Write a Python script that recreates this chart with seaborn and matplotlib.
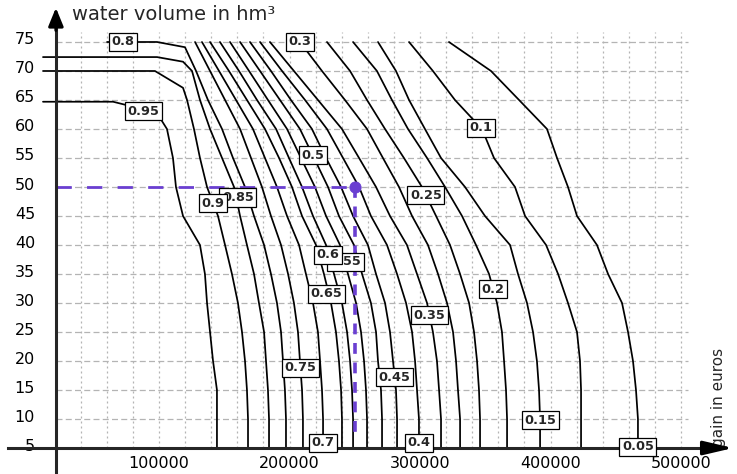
import numpy as np
import pandas as pd
import matplotlib
matplotlib.use("Agg")
import matplotlib.pyplot as plt
import matplotlib.transforms as mtransforms
import seaborn as sns

# ------------------------------------------------------------------ data
# water volume (hm3) at which the gain of each iso-probability line is read
volume = [5, 10, 15, 20, 25, 30, 35, 40, 45, 50, 55, 60, 65, 70, 75]
levels = [0.05, 0.1, 0.15, 0.2, 0.25, 0.3, 0.35, 0.4, 0.45, 0.5, 0.55, 0.6, 0.65, 0.7, 0.75]

# gain in thousand euros, one list per probability level (same order as `levels`)
g05 = [467.0, 467.0, 465.5, 463.2, 459.4, 454.8, 444.1, 435.6, 420.3, 413.4, 405.0, 397.3, 375.9, 354.4, 322.2]
g10 = [423.4, 423.4, 423.4, 422.6, 420.3, 413.4, 405.8, 396.6, 380.5, 372.8, 356.7, 347.5, 326.8, 309.9, 291.6]
g15 = [392.0, 392.0, 391.2, 389.6, 386.6, 382.0, 375.1, 369.0, 349.8, 334.5, 316.1, 303.8, 291.6, 281.6, 267.8]
g20 = [366.7, 366.7, 365.9, 364.4, 362.8, 359.0, 352.9, 342.9, 332.2, 319.2, 305.4, 290.8, 278.5, 267.0, 248.7]
g25 = [346.0, 346.0, 345.2, 343.7, 341.4, 337.6, 330.7, 323.0, 312.3, 301.5, 287.7, 273.2, 259.4, 246.4, 228.7]
g30 = [330.7, 330.7, 329.1, 327.6, 325.3, 320.7, 313.8, 306.1, 293.9, 283.9, 271.6, 259.4, 242.5, 224.9, 208.0]
g35 = [316.1, 316.1, 314.6, 313.0, 309.9, 305.4, 297.7, 290.0, 277.0, 266.3, 253.3, 240.2, 221.8, 203.4, 185.0]
g40 = [299.2, 299.2, 297.7, 296.2, 293.9, 289.3, 282.4, 274.7, 262.4, 253.3, 241.0, 228.7, 211.9, 194.3, 177.4]
g45 = [282.4, 282.4, 281.6, 279.3, 277.0, 273.2, 266.3, 260.1, 248.7, 239.5, 228.0, 217.2, 201.1, 185.8, 169.7]
g50 = [270.9, 270.9, 270.1, 267.8, 266.3, 262.4, 255.6, 249.4, 237.9, 229.5, 218.8, 208.0, 192.7, 177.4, 162.1]
g55 = [259.4, 259.4, 258.6, 257.1, 254.8, 251.0, 244.8, 238.7, 228.0, 219.5, 208.8, 198.1, 183.5, 169.0, 154.4]
g60 = [248.7, 248.7, 247.9, 246.4, 244.1, 240.2, 234.1, 228.0, 218.0, 209.6, 199.6, 189.7, 175.1, 161.3, 146.7]
g65 = [240.2, 240.2, 239.5, 237.9, 235.6, 231.8, 226.4, 220.3, 209.6, 201.9, 192.0, 181.2, 167.4, 153.6, 139.1]
g70 = [225.7, 225.7, 224.9, 223.4, 221.8, 218.0, 212.6, 207.3, 198.1, 190.4, 181.2, 172.0, 159.0, 146.0, 132.9]
g75 = [210.3, 210.3, 209.6, 208.0, 206.5, 203.4, 198.9, 193.5, 185.8, 178.9, 170.5, 162.1, 150.6, 139.1, 127.6]
gains = [g05, g10, g15, g20, g25, g30, g35, g40, g45, g50, g55, g60, g65, g70, g75]

# upper-left lines that flatten into a plateau
iso80_vol = [5, 10, 15, 20, 25, 30, 35, 40, 45, 50, 55, 60, 65, 70, 74.1, 75, 75]
iso80_gain = [197.3, 197.3, 196.5, 195.0, 193.5, 190.4, 185.8, 180.5, 172.8, 165.9, 156.7, 148.3, 137.5, 128.4, 119.9, 98.5, 60.2]
iso85_vol = [5, 10, 15, 20, 25, 30, 35, 40, 45, 50, 55, 60, 65, 70, 71.6, 72.4, 72.4]
iso85_gain = [184.3, 184.3, 183.5, 182.0, 180.5, 176.6, 172.8, 167.4, 162.1, 157.5, 148.3, 139.1, 131.4, 125.3, 118.4, 98.5, 11.1]
iso90_vol = [5, 10, 15, 20, 25, 30, 35, 40, 45, 50, 55, 60, 65, 67.1, 70, 70]
iso90_gain = [168.2, 168.2, 167.4, 165.9, 163.6, 160.5, 155.9, 150.6, 145.2, 136.8, 131.4, 126.8, 121.5, 118.4, 96.9, 11.1]
iso95_vol = [5, 10, 15, 20, 25, 30, 35, 40, 45, 50, 55, 60, 61.9, 64.1, 64.7, 64.7]
iso95_gain = [144.4, 144.4, 144.4, 141.4, 139.1, 136.8, 135.2, 131.4, 118.4, 113.0, 110.7, 106.1, 100.8, 75.5, 64.8, 11.1]

# inline level labels (drawn in this order; later ones sit on top)
label_text = ["0.8", "0.3", "0.95", "0.85", "0.9", "0.5", "0.25", "0.1", "0.55", "0.6",
              "0.65", "0.75", "0.7", "0.45", "0.4", "0.35", "0.2", "0.15", "0.05"]
label_gain_k = [72.4, 208.0, 88.0, 160.5, 141.5, 217.7, 304.5, 346.7, 243.0, 229.5,
                228.5, 208.4, 225.7, 280.6, 299.2, 307.3, 356.1, 392.0, 467.0]
label_vol = [75, 75, 63.1, 48.2, 47.2, 55.5, 48.6, 60.2, 37.1, 38.3,
             31.6, 18.8, 5.9, 17.2, 5.9, 27.9, 32.4, 9.8, 5.2]

# highlighted decision point
decision_gain = [250000]
decision_vol = [50]

x_ticks = [100000, 200000, 300000, 400000, 500000]
x_ticklabels = ["100000", "200000", "300000", "400000", "500000"]
y_ticks = [5, 10, 15, 20, 25, 30, 35, 40, 45, 50, 55, 60, 65, 70, 75]

# ------------------------------------------------------------------ table
rows = []
for lev, g in zip(levels, gains):
    for i, (v, x) in enumerate(zip(volume, g)):
        rows.append((lev, i, x * 1000, v))
for lev, vs, gs in [(0.8, iso80_vol, iso80_gain), (0.85, iso85_vol, iso85_gain),
                    (0.9, iso90_vol, iso90_gain), (0.95, iso95_vol, iso95_gain)]:
    for i, (v, x) in enumerate(zip(vs, gs)):
        rows.append((lev, i, x * 1000, v))
df = pd.DataFrame(rows, columns=["level", "order", "gain", "volume"])

# ------------------------------------------------------------------ plot
sns.set_style("white")
plt.rcParams["font.family"] = ["DejaVu Sans"]

fig = plt.figure(figsize=(7.37, 4.74), dpi=100)
ax = fig.add_axes([0, 0, 1, 1])
ax.set_xlim(-21840, 542900)
ax.set_ylim(0.52, 82.24)

grid_c = "#b4b4b4"
for v in y_ticks:
    ax.plot([21000, 505000], [v, v], color=grid_c, lw=0.9, ls=(0, (4.8, 2.6)), zorder=0)
for g in np.arange(40000, 520000, 20000):
    ax.plot([g, g], [5, 76.7], color=grid_c, lw=0.9, ls=(0, (1.6, 2.4)), zorder=0)

sns.lineplot(data=df, x="gain", y="volume", units="level", estimator=None, sort=False,
             color="black", linewidth=1.25, ax=ax, legend=False, zorder=3)

purple = "#6a3fd1"
ax.plot([21000, decision_gain[0]], [decision_vol[0], decision_vol[0]], color=purple,
        lw=2.0, ls=(0, (5.5, 5.5)), zorder=4)
ax.plot([decision_gain[0], decision_gain[0]], [decision_vol[0], 6.8], color=purple,
        lw=2.6, ls=(0, (3.0, 2.4)), zorder=4)
sns.scatterplot(x=decision_gain, y=decision_vol, s=65, color=purple, edgecolor=purple,
                ax=ax, zorder=6, legend=False)

for t, gx, vy in zip(label_text, label_gain_k, label_vol):
    ax.text(gx * 1000, vy, t, ha="center", va="center", fontsize=9.3, fontweight="bold",
            zorder=10,
            bbox=dict(boxstyle="square,pad=0.2", fc="white", ec="black", lw=0.9))

# axes / spines
for s in ["top", "right"]:
    ax.spines[s].set_visible(False)
ax.spines["left"].set_position(("data", 21000))
ax.spines["bottom"].set_position(("data", 5))
ax.spines["left"].set_linewidth(2.2)
ax.spines["bottom"].set_linewidth(2.2)
ax.spines["left"].set_bounds(0.52, 78.5)
ax.spines["bottom"].set_bounds(-15700, 524000)
ax.spines["left"].set_zorder(7)
ax.spines["bottom"].set_zorder(7)

ax.set_yticks(y_ticks)
ax.set_yticklabels([str(v) for v in y_ticks])
ax.set_xticks(x_ticks)
ax.set_xticklabels(x_ticklabels)
ax.tick_params(axis="y", length=9.5, width=1.6, direction="out", pad=5.5,
               labelsize=11.5, colors="black")
ax.tick_params(axis="x", length=4.5, width=2.0, direction="out", pad=1.2,
               labelsize=11.5, colors="black")
off = mtransforms.ScaledTranslation(0, 0.035, fig.dpi_scale_trans)
for lab in ax.get_yticklabels():
    lab.set_transform(lab.get_transform() + off)
ax.set_xlabel("")
ax.set_ylabel("")

ax.annotate("", xy=(21000, 80.9), xytext=(21000, 77.0),
            arrowprops=dict(arrowstyle="-|>,head_length=1.1,head_width=0.45",
                            color="black", lw=2.2, shrinkA=0, shrinkB=0), zorder=8)
ax.annotate("", xy=(540000, 5), xytext=(520000, 5),
            arrowprops=dict(arrowstyle="-|>,head_length=1.8,head_width=0.42",
                            color="black", lw=2.2, shrinkA=0, shrinkB=0), zorder=8)

ax.text(33300, 79.7, "water volume in hm³", fontsize=14, ha="left", va="center")
ax.text(528400, 13.8, "gain in euros", rotation=90, ha="center", va="center", fontsize=11)

fig.savefig("out.png", dpi=100)
